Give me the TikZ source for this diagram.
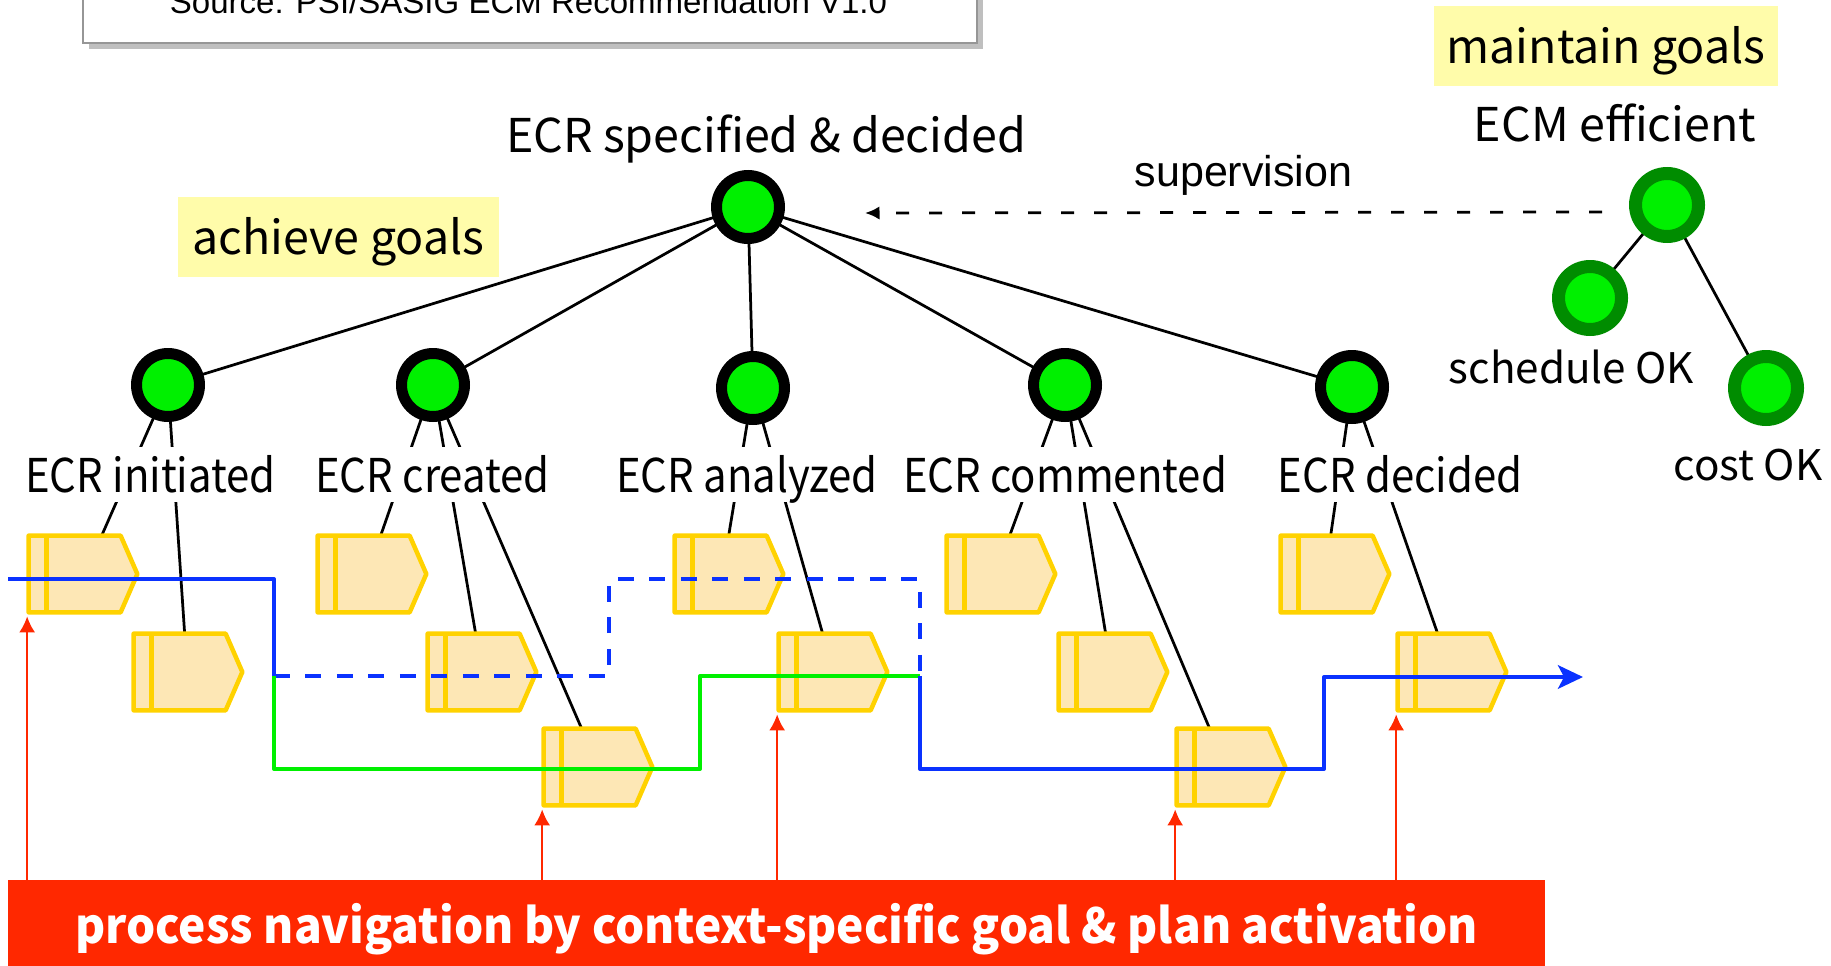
\documentclass[tikz,border=0pt]{standalone}
\usepackage{fontspec}
\setmainfont{Noto Sans CJK JP}
\newfontfamily\arialfont{Liberation Sans}
\usetikzlibrary{arrows.meta,calc,shadows}
\pgfdeclarelayer{bg}
\pgfsetlayers{bg,main}
\definecolor{goalgreen}{RGB}{0,240,0}
\definecolor{darkgreen}{RGB}{0,140,0}
\definecolor{planfill}{RGB}{253,231,181}
\definecolor{planline}{RGB}{255,210,0}
\definecolor{labelyellow}{RGB}{255,252,170}
\definecolor{navred}{RGB}{255,40,0}
\definecolor{navblue}{RGB}{10,50,255}
\definecolor{navgreen}{RGB}{0,240,0}
\definecolor{srcgray}{RGB}{150,150,150}
\newcommand\labsize{\fontsize{26.5}{30}\selectfont}
\newcommand\subsize{\fontsize{24}{28}\selectfont}
\newcommand\supsize{\arialfont\fontsize{24.5}{28}\selectfont}
\newcommand\bansize{\bfseries\fontsize{27.5}{32}\selectfont}
\newcommand\srcsize{\arialfont\fontsize{18.8}{22}\selectfont}
\newcommand\narrow[1]{\scalebox{0.9}[1]{#1}}
\newcommand\plan[3]{%
  \node[planbox] (#1) at (#2+54,#3+38) {};
  \draw[planshape] (#1.north west) -- ($(#1.north west)+(92,0)$) -- (#1.east)
     -- ($(#1.south west)+(92,0)$) -- (#1.south west) -- cycle;
  \draw[plandiv] ($(#1.north west)+(18,0)$) -- ($(#1.south west)+(18,0)$);
}
\begin{document}
\begin{tikzpicture}[x=0.02cm,y=-0.02cm,
  goal/.style={circle,minimum size=1.26cm,inner sep=0pt,draw=black,line width=0.22cm,fill=goalgreen},
  mgoal/.style={circle,minimum size=1.26cm,inner sep=0pt,draw=darkgreen,line width=0.26cm,fill=goalgreen},
  goaledge/.style={draw=black,line width=0.055cm},
  lab/.style={anchor=base,fill=white,inner xsep=0.06cm,inner ysep=0pt,text height=0.9cm,text depth=0.2cm,font=\labsize},
  txt/.style={anchor=base,inner sep=0pt,font=\labsize},
  ybox/.style={anchor=base,fill=labelyellow,inner sep=0pt,text height=1.16cm,text depth=0.44cm,font=\labsize},
  planbox/.style={rectangle,inner sep=0pt,minimum width=2.16cm,minimum height=1.52cm},
  planshape/.style={draw=planline,fill=planfill,line width=0.09cm,line join=round},
  plandiv/.style={draw=planline,line width=0.09cm},
  navline/.style={line width=0.08cm,line join=round},
  redarrow/.style={draw=navred,line width=0.045cm,-{Latex[length=0.32cm,width=0.32cm]}},
  suparrow/.style={draw=black,line width=0.055cm,dash pattern=on 0.26cm off 0.4cm,-{Latex[length=0.29cm,width=0.27cm]}}
]
\useasboundingbox (0,0) rectangle (1831,966);
\clip (0,0) rectangle (1831,966);

% source box
\node[draw=srcgray,line width=0.04cm,fill=white,minimum width=17.88cm,minimum height=1.6cm,inner sep=0pt,
  drop shadow={shadow xshift=0.12cm,shadow yshift=-0.12cm,opacity=0.25,fill=black}] (src) at (530,3) {};
\node[anchor=base,inner sep=0pt,font=\srcsize] (srctext) at (528.5,14) {Source: PSI/SASIG ECM Recommendation V1.0};

% yellow boxes
\node[ybox,minimum width=6.42cm] (achieve) at (338.5,255) {achieve goals};
\node[ybox,minimum width=6.88cm] (maintain) at (1606,64) {maintain goals};

% goals
\node[goal] (g0) at (748,207) {};
\node[goal] (g1) at (168,385) {};
\node[goal] (g2) at (433,385) {};
\node[goal] (g3) at (753,388) {};
\node[goal] (g4) at (1065,385) {};
\node[goal] (g5) at (1352,387) {};
\node[mgoal] (m0) at (1667,205) {};
\node[mgoal] (m1) at (1590,298) {};
\node[mgoal] (m2) at (1766,388) {};

% plans
\plan{p11}{29}{536}
\plan{p21}{134}{634}
\plan{p12}{318}{536}
\plan{p22}{428}{634}
\plan{p32}{544}{729}
\plan{p13}{675}{536}
\plan{p23}{779}{634}
\plan{p14}{947}{536}
\plan{p24}{1059}{634}
\plan{p34}{1177}{729}
\plan{p15}{1281}{536}
\plan{p25}{1398}{634}

\begin{pgfonlayer}{bg}
\draw[goaledge] (g0.center) -- (g1.center);
\draw[goaledge] (g0.center) -- (g2.center);
\draw[goaledge] (g0.center) -- (g3.center);
\draw[goaledge] (g0.center) -- (g4.center);
\draw[goaledge] (g0.center) -- (g5.center);
\draw[goaledge] (m0.center) -- (m1.center);
\draw[goaledge] (m0.center) -- (m2.center);
\draw[goaledge] (g1.center) -- ($(p11.north west)+(73,0)$);
\draw[goaledge] (g1.center) -- ($(p21.north west)+(51,0)$);
\draw[goaledge] (g2.center) -- ($(p12.north west)+(63,0)$);
\draw[goaledge] (g2.center) -- ($(p22.north west)+(48,0)$);
\draw[goaledge] (g2.center) -- ($(p32.north west)+(38,0)$);
\draw[goaledge] (g3.center) -- ($(p13.north west)+(54,0)$);
\draw[goaledge] (g3.center) -- ($(p23.north west)+(44,0)$);
\draw[goaledge] (g4.center) -- ($(p14.north west)+(63,0)$);
\draw[goaledge] (g4.center) -- ($(p24.north west)+(47,0)$);
\draw[goaledge] (g4.center) -- ($(p34.north west)+(33,0)$);
\draw[goaledge] (g5.center) -- ($(p15.north west)+(50,0)$);
\draw[goaledge] (g5.center) -- ($(p25.north west)+(40,0)$);
\end{pgfonlayer}

% labels
\node[txt] (t0) at (766,153) {ECR specified \& decided};
\node[lab] (l1) at (150.5,492) {\narrow{ECR initiated}};
\node[lab] (l2) at (432.5,492) {\narrow{ECR created}};
\node[lab] (l3) at (747,492) {\narrow{ECR analyzed}};
\node[lab] (l4) at (1065,492) {\narrow{ECR commented}};
\node[lab] (l5) at (1400,492) {\narrow{ECR decided}};
\node[txt] (tm0) at (1615,142) {ECM efficient};
\node[txt,font=\subsize] (tm1) at (1571.5,383) {schedule OK};
\node[txt,font=\subsize] (tm2) at (1748,480) {cost OK};
\node[anchor=base,inner sep=0pt,font=\supsize] (sup) at (1243.5,186.7) {supervision};

% supervision arrow
\draw[suparrow] ($(m0.west)+(-27,7)$) -- ($(g0.east)+(80,6)$);

% process paths
\coordinate (bstart) at (8,579);
\coordinate (split) at (274,676);
\coordinate (merge) at (920,676);
\coordinate (bend) at (1583,677);
\draw[navline,navblue] (bstart) -| (split);
\draw[navline,navblue,dash pattern=on 0.32cm off 0.31cm] (split) -- (609,676) -- (609,579) -- (920,579) -- (merge);
\draw[navline,navgreen] (split) -- (274,769) -- (700,769) -- (700,676) -- (merge);
\draw[navline,navblue,-{Stealth[length=0.5cm,width=0.47cm,inset=0.12cm]}] (merge) -- (920,769) -- (1324,769) -- (1324,677) -- (bend);

% banner
\node[anchor=base,fill=navred,inner sep=0pt,minimum width=30.74cm,text height=1.26cm,text depth=0.64cm,
  text=white,font=\bansize] (banner) at (776.5,943) {\scalebox{0.952}[1]{process navigation by context-specific goal \& plan activation}};

% red arrows
\coordinate (a1) at ($(p11.south west)+(-1.5,4)$);
\coordinate (a2) at ($(p32.south west)+(-1.5,4)$);
\coordinate (a3) at ($(p23.south west)+(-1.5,4)$);
\coordinate (a4) at ($(p34.south west)+(-1.5,4)$);
\coordinate (a5) at ($(p25.south west)+(-1.5,4)$);
\draw[redarrow] (a1 |- banner.north) -- (a1);
\draw[redarrow] (a2 |- banner.north) -- (a2);
\draw[redarrow] (a3 |- banner.north) -- (a3);
\draw[redarrow] (a4 |- banner.north) -- (a4);
\draw[redarrow] (a5 |- banner.north) -- (a5);
\end{tikzpicture}
\end{document}
